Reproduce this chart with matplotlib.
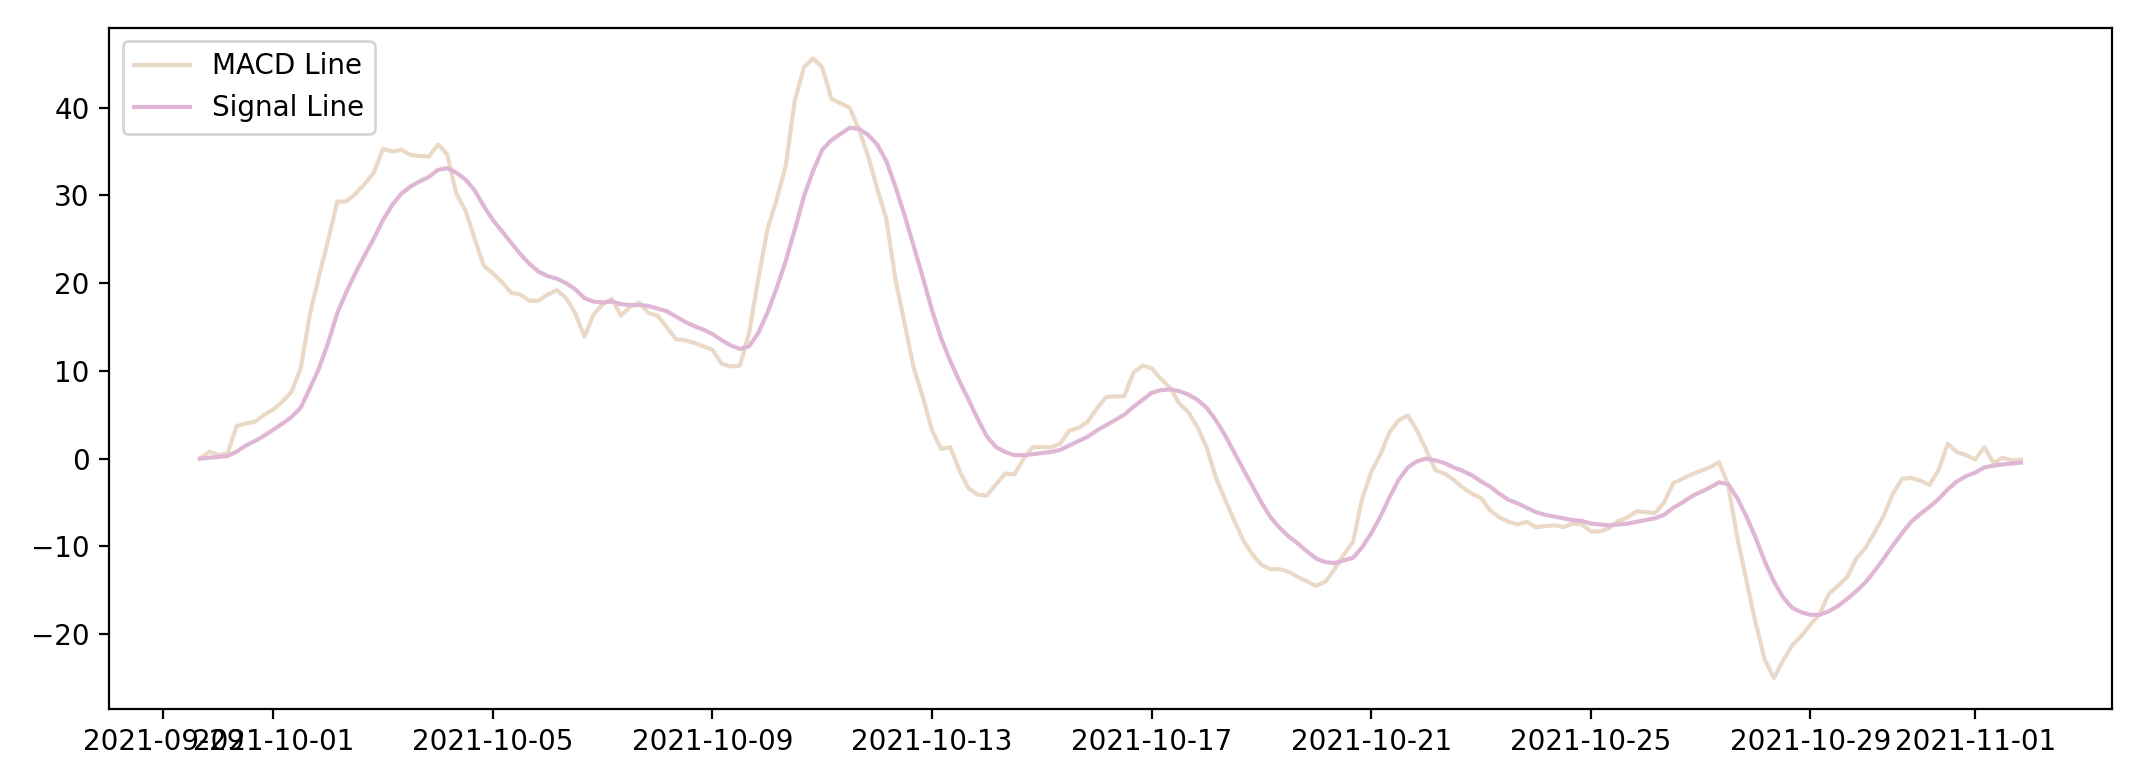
import matplotlib
matplotlib.use("Agg")
import matplotlib.pyplot as plt
import pandas as pd

# 4-hour samples starting 2021-09-29 16:00
START = "2021-09-29 16:00"
FREQ = "4h"

macd_line = [
    0.0, 0.8, 0.4, 0.6, 3.7, 4.0, 4.2, 5.0, 5.6, 6.5,
    7.6, 10.3, 16.4, 20.8, 24.9, 29.3, 29.3, 30.2, 31.3, 32.6,
    35.3, 35.0, 35.2, 34.6, 34.5, 34.4, 35.8, 34.7, 30.2, 28.3,
    25.1, 22.0, 21.1, 20.1, 18.9, 18.7, 18.0, 18.0, 18.7, 19.2,
    18.3, 16.6, 13.9, 16.4, 17.6, 18.2, 16.3, 17.3, 17.8, 16.6,
    16.3, 15.0, 13.6, 13.5, 13.2, 12.8, 12.4, 10.8, 10.5, 10.6,
    14.3, 20.4, 26.1, 29.5, 33.3, 40.8, 44.6, 45.6, 44.6, 41.0,
    40.5, 40.0, 37.5, 34.5, 30.8, 27.3, 20.4, 15.4, 10.3, 7.0,
    3.2, 1.1, 1.3, -1.4, -3.4, -4.1, -4.2, -2.9, -1.7, -1.8,
    0.0, 1.3, 1.3, 1.3, 1.7, 3.2, 3.5, 4.2, 5.7, 7.0,
    7.1, 7.1, 9.8, 10.6, 10.3, 9.1, 8.1, 6.3, 5.3, 3.6,
    1.3, -2.1, -4.6, -7.0, -9.3, -10.9, -12.1, -12.6, -12.6, -12.9,
    -13.5, -14.0, -14.5, -14.0, -12.6, -10.9, -9.5, -4.6, -1.5, 0.5,
    3.0, 4.4, 4.9, 3.2, 1.0, -1.3, -1.7, -2.4, -3.3, -4.0,
    -4.5, -5.9, -6.7, -7.2, -7.5, -7.2, -7.8, -7.7, -7.6, -7.8,
    -7.4, -7.5, -8.3, -8.3, -7.9, -7.1, -6.7, -6.0, -6.1, -6.2,
    -5.0, -2.8, -2.3, -1.8, -1.4, -1.0, -0.4, -3.0, -9.0, -13.9,
    -18.7, -22.9, -25.0, -23.0, -21.3, -20.2, -18.9, -17.7, -15.4, -14.5,
    -13.5, -11.4, -10.2, -8.4, -6.5, -4.0, -2.3, -2.2, -2.5, -3.0,
    -1.3, 1.7, 0.75, 0.4, -0.1, 1.3, -0.5, 0.1, -0.2, -0.1,
]

signal_line = [
    0.0, 0.1, 0.2, 0.3, 0.8, 1.5, 2.0, 2.6, 3.3, 4.0,
    4.75, 5.8, 8.0, 10.3, 13.2, 16.6, 19.0, 21.2, 23.2, 25.1,
    27.2, 28.9, 30.2, 31.0, 31.6, 32.1, 32.9, 33.1, 32.6, 31.8,
    30.6, 28.8, 27.2, 25.9, 24.6, 23.3, 22.2, 21.3, 20.8, 20.5,
    20.0, 19.3, 18.3, 17.9, 17.8, 17.9, 17.6, 17.5, 17.5, 17.4,
    17.1, 16.8, 16.2, 15.6, 15.1, 14.7, 14.2, 13.5, 12.9, 12.5,
    12.8, 14.3, 16.6, 19.4, 22.5, 26.1, 29.9, 32.8, 35.2, 36.3,
    37.0, 37.7, 37.6, 36.9, 35.8, 33.9, 31.0, 27.7, 24.2, 20.6,
    16.9, 13.7, 11.1, 8.8, 6.7, 4.5, 2.5, 1.3, 0.75, 0.4,
    0.4, 0.5, 0.65, 0.75, 1.0, 1.5, 2.0, 2.5, 3.2, 3.8,
    4.4, 5.0, 5.9, 6.7, 7.5, 7.8, 7.9, 7.7, 7.3, 6.7,
    5.8, 4.4, 2.7, 0.75, -1.2, -3.1, -5.0, -6.7, -7.9, -8.9,
    -9.7, -10.6, -11.4, -11.8, -11.9, -11.6, -11.3, -10.1, -8.5, -6.6,
    -4.4, -2.4, -1.0, -0.3, 0.0, -0.2, -0.5, -1.0, -1.4, -1.9,
    -2.6, -3.2, -4.0, -4.7, -5.1, -5.6, -6.1, -6.4, -6.6, -6.8,
    -7.0, -7.1, -7.4, -7.5, -7.6, -7.5, -7.4, -7.2, -7.0, -6.8,
    -6.4, -5.6, -5.0, -4.3, -3.8, -3.3, -2.7, -2.9, -4.5, -6.6,
    -9.0, -11.7, -14.0, -15.8, -17.0, -17.5, -17.8, -17.8, -17.4, -16.8,
    -16.0, -15.1, -14.1, -12.8, -11.4, -9.9, -8.5, -7.2, -6.3, -5.5,
    -4.6, -3.5, -2.6, -2.0, -1.6, -1.0, -0.8, -0.65, -0.55, -0.45,
]

dates = pd.date_range(START, periods=len(macd_line), freq=FREQ)

fig = plt.figure(figsize=(10.78, 3.92), dpi=200)
ax = fig.add_axes([109 / 2156, 1 - 709 / 784, (2112 - 109) / 2156, (709 - 27.5) / 784])

ax.plot(dates, macd_line, color="#ebd9c8", linewidth=1.5, label="MACD Line")
ax.plot(dates, signal_line, color="#e0b6d5", linewidth=1.5, label="Signal Line")
ax.legend(loc="upper left")

fig.savefig("out.png", dpi=200)
